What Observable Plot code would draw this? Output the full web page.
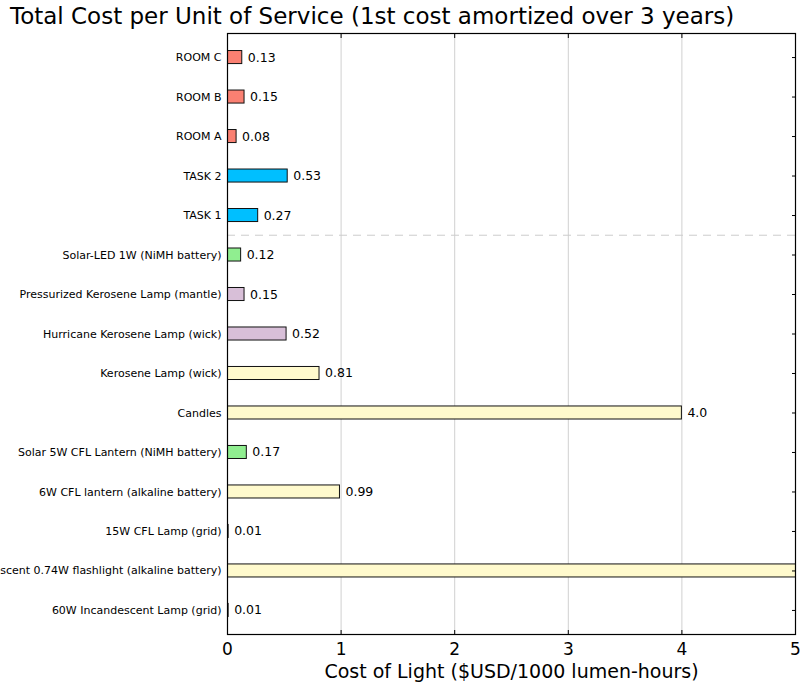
<!DOCTYPE html>
<html>
<head>
<meta charset="utf-8">
<script src="https://cdn.jsdelivr.net/npm/d3@7"></script>
<script src="https://cdn.jsdelivr.net/npm/@observablehq/plot@0.6"></script>
<style>
  body { margin: 0; background: white; font-family: "DejaVu Sans", sans-serif; overflow: hidden; }
  #title { height: 33px; font-size: 23px; line-height: 33px; padding-left: 10px; white-space: nowrap; color: #000; }
  svg { display: block; }
</style>
</head>
<body>
<div id="title">Total Cost per Unit of Service (1st cost amortized over 3 years)</div>
<div id="chart"></div>
<script>
const categories = [
  "ROOM C", "ROOM B", "ROOM A", "TASK 2", "TASK 1",
  "Solar-LED 1W (NiMH battery)",
  "Pressurized Kerosene Lamp (mantle)",
  "Hurricane Kerosene Lamp (wick)",
  "Kerosene Lamp (wick)",
  "Candles",
  "Solar 5W CFL Lantern (NiMH battery)",
  "6W CFL lantern (alkaline battery)",
  "15W CFL Lamp (grid)",
  "Incandescent 0.74W flashlight (alkaline battery)",
  "60W Incandescent Lamp (grid)"
];
const values = [0.13, 0.15, 0.08, 0.53, 0.27, 0.12, 0.15, 0.52, 0.81, 4.0, 0.17, 0.99, 0.01, 13.0, 0.01];
const valueLabels = ["0.13", "0.15", "0.08", "0.53", "0.27", "0.12", "0.15", "0.52", "0.81", "4.0", "0.17", "0.99", "0.01", "13.0", "0.01"];
const groups = ["room", "room", "room", "task", "task", "solar", "pressurized", "pressurized", "traditional", "traditional", "solar", "traditional", "traditional", "traditional", "traditional"];
const groupNames = ["room", "task", "solar", "pressurized", "traditional"];
const groupColors = ["#fa8072", "#00bfff", "#90ee90", "#d8bfd8", "#fffacd"];
const xTicks = [0, 1, 2, 3, 4, 5];
const xMax = 5;
const separatorAfter = "TASK 1";
const xLabel = "Cost of Light ($USD/1000 lumen-hours)";

const data = categories.map((name, i) => ({name, value: values[i], label: valueLabels[i], group: groups[i]}));
const visibleLabels = data.filter(d => d.value < xMax);

const chart = Plot.plot({
  width: 804,
  height: 651,
  marginLeft: 227,
  marginRight: 9,
  marginTop: 0,
  marginBottom: 50,
  style: {fontFamily: "DejaVu Sans, sans-serif", background: "white", color: "black", overflow: "visible"},
  x: {domain: [0, xMax], ticks: xTicks},
  y: {domain: categories, paddingInner: 0.67, paddingOuter: 0.444, align: 0.5, round: false},
  color: {domain: groupNames, range: groupColors},
  marks: [
    Plot.gridX(xTicks.slice(1, -1), {stroke: "#d0d0d0", strokeOpacity: 1, strokeWidth: 1}),
    Plot.ruleY([separatorAfter], {dy: 19.7, stroke: "#cccccc", strokeWidth: 1, strokeDasharray: "8,6"}),
    Plot.barX(data, {x: "value", y: "name", fill: "group", stroke: "#111", strokeWidth: 1, clip: true}),
    Plot.text(visibleLabels, {x: "value", y: "name", text: "label", dx: 5.5, textAnchor: "start", fontSize: 12.5, fill: "black"}),
    Plot.axisY({anchor: "left", tickSize: 0, tickPadding: 6, fontSize: 11, label: null}),
    Plot.axisY({anchor: "right", tickSize: 4, dx: -4, tickFormat: () => "", label: null}),
    Plot.axisX(xTicks, {anchor: "top", tickSize: 4, dy: 4, tickFormat: () => "", label: null}),
    Plot.axisX(xTicks, {anchor: "bottom", tickSize: 4, dy: -4, tickFormat: () => "", label: null}),
    Plot.axisX(xTicks, {anchor: "bottom", tickSize: 0, tickPadding: 8, fontSize: 17, tickFormat: d3.format("d"), label: null}),
    Plot.text([xLabel], {frameAnchor: "bottom", dy: 43, fontSize: 19, fill: "black"}),
    Plot.frame({stroke: "black", strokeWidth: 1.2})
  ]
});
document.getElementById("chart").appendChild(chart);
</script>
</body>
</html>
